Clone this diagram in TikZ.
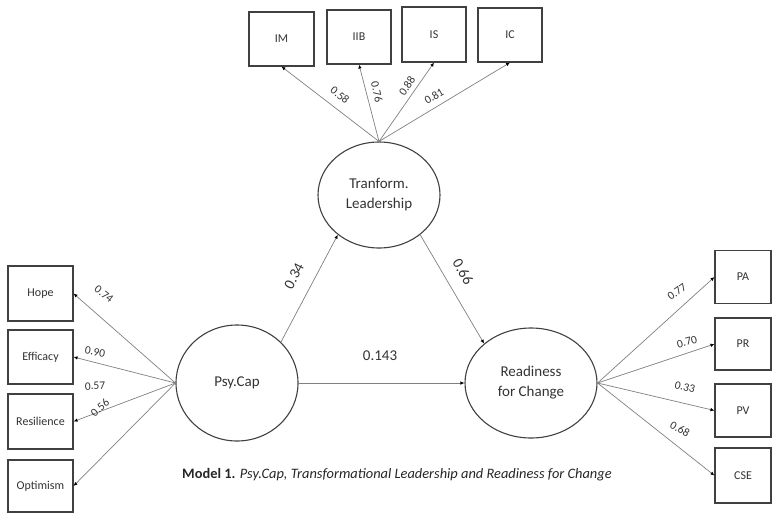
\documentclass[tikz,border=0pt]{standalone}
\usepackage{fontspec}
\setmainfont{Carlito}
\usetikzlibrary{arrows.meta,shapes.geometric}
\begin{document}
\begin{tikzpicture}[x=1pt,y=-1pt,
  obs/.style={draw=black!75,line width=1.1pt,fill=white,inner sep=0pt,font=\fontsize{12}{14}\selectfont,text=black!80},
  lat/.style={ellipse,draw=black!75,line width=1.1pt,inner sep=0pt,font=\fontsize{15}{18}\selectfont,text=black!80,align=center},
  pth/.style={draw=black!50,line width=0.7pt,-{Latex[length=4pt,width=3.5pt,black]}},
  coef/.style={font=\fontsize{11.5}{13}\selectfont,text=black!80,inner sep=0pt},
  bigcoef/.style={font=\fontsize{15}{17}\selectfont,text=black!80,inner sep=0pt}]
\useasboundingbox (0,0) rectangle (773,514);
% latent variables
\node[lat,minimum width=122pt,minimum height=116pt] (psy) at (237,383) {Psy.Cap};
\node[lat,minimum width=122pt,minimum height=106pt] (tl) at (379,195) {Tranform.\\[2pt]Leadership};
\node[lat,minimum width=132pt,minimum height=110pt] (rfc) at (531,383) {Readiness\\[2pt]for Change};
% top indicators
\node[obs,minimum width=65pt,minimum height=54pt] (im) at (281.5,39) {IM};
\node[obs,minimum width=64pt,minimum height=54pt] (iib) at (359,37) {IIB};
\node[obs,minimum width=64pt,minimum height=55pt] (is) at (434,34.5) {IS};
\node[obs,minimum width=64pt,minimum height=54pt] (ic) at (510,35) {IC};
% left indicators
\node[obs,minimum width=65pt,minimum height=55pt] (hope) at (40.5,293.5) {Hope};
\node[obs,minimum width=65pt,minimum height=54pt] (eff) at (40.5,357) {Efficacy};
\node[obs,minimum width=65pt,minimum height=55pt] (res) at (40.5,421.5) {Resilience};
\node[obs,minimum width=65pt,minimum height=52pt] (opt) at (40.5,486) {Optimism};
% right indicators
\node[obs,minimum width=56pt,minimum height=53pt] (pa) at (743,277) {PA};
\node[obs,minimum width=56pt,minimum height=52pt] (pr) at (743,344) {PR};
\node[obs,minimum width=56pt,minimum height=53pt] (pv) at (743,410.5) {PV};
\node[obs,minimum width=56pt,minimum height=55pt] (cse) at (743,475.5) {CSE};
% structural paths
\draw[pth] (psy.43) -- (tl.224);
\draw[pth] (tl.316) -- (rfc.140);
\draw[pth] (psy.east) -- (rfc.west);
% measurement paths
\foreach \b in {im,iib,is,ic} \draw[pth] (tl.north) -- (\b.south);
\foreach \b in {hope,eff,res,opt} \draw[pth] (psy.west) -- (\b.east);
\foreach \b in {pa,pr,pv,cse} \draw[pth] (rfc.east) -- (\b.west);
% coefficients
\node[coef,rotate=-39] (c1) at (340,95) {0.58};
\node[coef,rotate=-77] (c2) at (377,92) {0.76};
\node[coef,rotate=56] (c3) at (407,86) {0.88};
\node[coef,rotate=31] (c4) at (434,96) {0.81};
\node[coef,rotate=-38] (c5) at (104,294) {0.74};
\node[coef,rotate=-11] (c6) at (95,352) {0.90};
\node[coef,rotate=3] (c7) at (95,386) {0.57};
\node[coef,rotate=42] (c8) at (100,408) {0.56};
\node[coef,rotate=36] (c9) at (677,292) {0.77};
\node[coef,rotate=15] (c10) at (687,342) {0.70};
\node[coef,rotate=-14] (c11) at (685,387) {0.33};
\node[coef,rotate=-30] (c12) at (680,429) {0.68};
\node[bigcoef,rotate=62] (c13) at (294,276) {0.34};
\node[bigcoef,rotate=-60] (c14) at (463,272) {0.66};
\node[bigcoef] (c15) at (380,356) {0.143};
% caption
\node[anchor=west,inner sep=0pt,text=black!85,font=\fontsize{14.4}{17}\selectfont] (cap) at (182,475)
  {\textbf{Model 1.} \textit{Psy.Cap, Transformational Leadership and Readiness for Change}};
\end{tikzpicture}
\end{document}
